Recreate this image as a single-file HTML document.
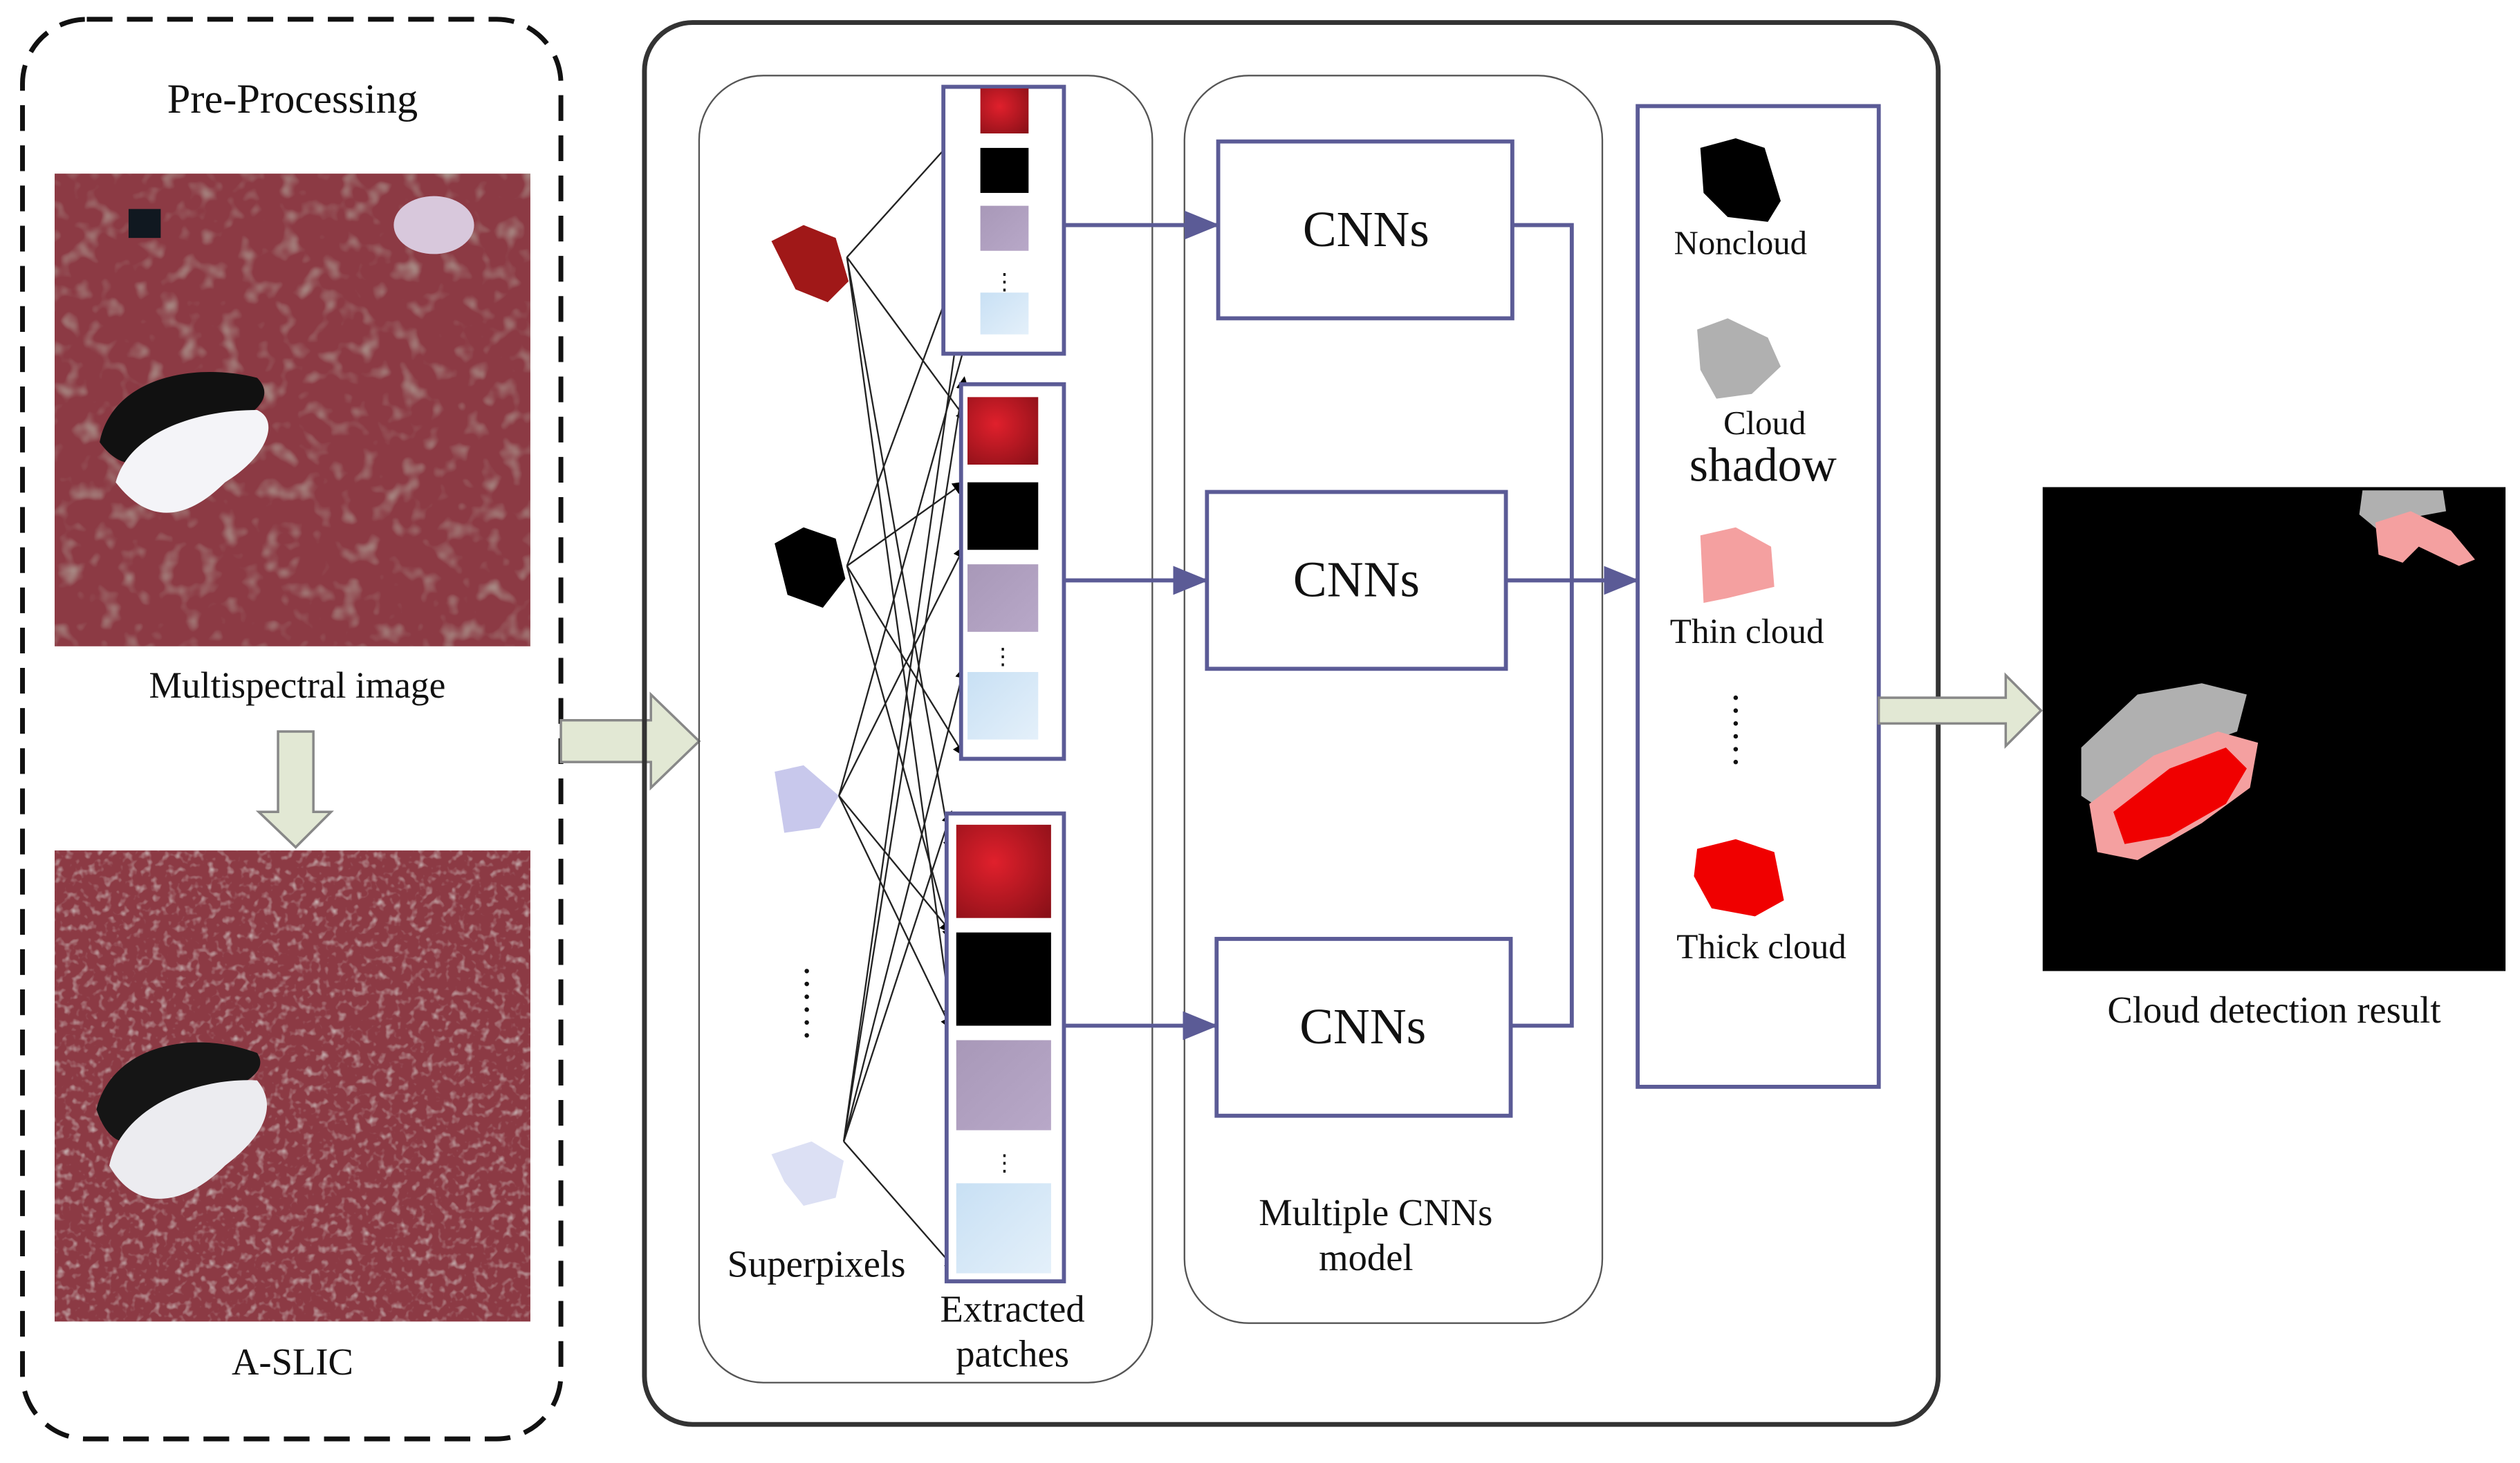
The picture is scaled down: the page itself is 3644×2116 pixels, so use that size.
<!DOCTYPE html>
<html><head><meta charset="utf-8"><style>
html,body{margin:0;padding:0;background:#fff;}
svg{display:block;}
text{font-family:"Liberation Serif",serif;fill:#111;}
</style></head><body>
<svg width="3644" height="2116" viewBox="0 0 1568 910" preserveAspectRatio="none" xmlns="http://www.w3.org/2000/svg">
<defs>
<filter id="tex" x="0" y="0" width="100%" height="100%">
<feTurbulence type="fractalNoise" baseFrequency="0.08" numOctaves="2" seed="3"/>
<feColorMatrix type="matrix" values="0 0 0 0 0.5  0 0 0 0 0.55  0 0 0 0 0.45  0 0 0 1.6 -0.85"/>
</filter>
<filter id="tex2" x="0" y="0" width="100%" height="100%">
<feTurbulence type="fractalNoise" baseFrequency="0.2" numOctaves="2" seed="7"/>
<feColorMatrix type="matrix" values="0 0 0 0 0.7  0 0 0 0 0.7  0 0 0 0 0.68  0 0 0 1.8 -0.95"/>
</filter>
<radialGradient id="red" cx="0.4" cy="0.4" r="0.8"><stop offset="0" stop-color="#e0202c"/><stop offset="1" stop-color="#8a1018"/></radialGradient>
<linearGradient id="lav" x1="0" y1="0" x2="1" y2="1"><stop offset="0" stop-color="#a898b8"/><stop offset="1" stop-color="#b8a8c8"/></linearGradient>
<linearGradient id="sky" x1="0" y1="0" x2="1" y2="1"><stop offset="0" stop-color="#c8e0f4"/><stop offset="1" stop-color="#e4f0fa"/></linearGradient>
<marker id="ah" markerWidth="8" markerHeight="8" refX="7" refY="4" orient="auto" markerUnits="userSpaceOnUse"><path d="M0,0 L8,4 L0,8z" fill="#000"/></marker>
<marker id="ap" markerWidth="22" markerHeight="18" refX="21" refY="9" orient="auto" markerUnits="userSpaceOnUse"><path d="M0,0 L22,9 L0,18z" fill="#5b5b96"/></marker>
</defs>

<rect x="14" y="12" width="335" height="883" rx="40" fill="none" stroke="#111" stroke-width="3" stroke-dasharray="16,9"/>
<text x="182" y="70" font-size="26" text-anchor="middle">Pre-Processing</text>
<rect x="34" y="108" width="296" height="294" fill="#8c3a44"/>
<rect x="34" y="108" width="296" height="294" filter="url(#tex)"/>
<path d="M62,275 C70,235 120,225 160,235 C175,250 150,265 120,270 C100,285 80,300 62,275z" fill="#111"/>
<path d="M72,300 C80,270 120,255 160,255 C175,262 165,285 140,300 C120,320 95,330 72,300z" fill="#f4f4f8"/>
<ellipse cx="270" cy="140" rx="25" ry="18" fill="#d8c8dc"/>
<rect x="80" y="130" width="20" height="18" fill="#101820"/>
<text x="185" y="434" font-size="23" text-anchor="middle">Multispectral image</text>
<path d="M173,455 H195 V505 H206 L184,527 L161,505 H173z" fill="#e2e8d4" stroke="#888" stroke-width="1.5"/>
<rect x="34" y="529" width="296" height="293" fill="#8c3a44"/>
<rect x="34" y="529" width="296" height="293" filter="url(#tex2)"/>
<path d="M60,690 C70,650 120,640 160,655 C170,670 140,680 110,690 C90,715 70,720 60,690z" fill="#151515"/>
<path d="M68,725 C75,690 120,670 160,672 C175,690 160,710 140,725 C115,750 85,755 68,725z" fill="#ececf0"/>
<text x="182" y="855" font-size="23.5" text-anchor="middle">A-SLIC</text>

<path d="M349,448 H405 V432 L435,461 L405,490 V474 H349z" fill="#e2e8d4" stroke="#888" stroke-width="1.5"/>

<rect x="401" y="14" width="805" height="872" rx="30" fill="none" stroke="#333" stroke-width="3"/>
<rect x="435" y="47" width="282" height="813" rx="40" fill="none" stroke="#555" stroke-width="1"/>
<rect x="737" y="47" width="260" height="776" rx="40" fill="none" stroke="#555" stroke-width="1"/>

<path d="M480,150 L500,140 L520,148 L528,175 L515,188 L495,180z" fill="#a01818"/>
<path d="M482,338 L500,328 L520,335 L526,360 L512,378 L490,370z" fill="#000"/>
<path d="M482,480 L500,476 L522,495 L510,515 L488,518z" fill="#c8c8ec"/>
<path d="M480,718 L505,710 L525,722 L520,745 L500,750 L488,735z" fill="#dce0f4"/>
<g fill="#111"><circle cx="502" cy="604" r="1.4"/><circle cx="502" cy="612" r="1.4"/><circle cx="502" cy="620" r="1.4"/><circle cx="502" cy="628" r="1.4"/><circle cx="502" cy="636" r="1.4"/><circle cx="502" cy="644" r="1.4"/></g>
<text x="508" y="794" font-size="23.5" text-anchor="middle">Superpixels</text>
<text x="630" y="822" font-size="23.5" text-anchor="middle">Extracted</text>
<text x="630" y="850" font-size="23.5" text-anchor="middle">patches</text>

<g stroke="#222" stroke-width="1" fill="none" marker-end="url(#ah)">
<line x1="527" y1="160" x2="610" y2="68"/>
<line x1="527" y1="160" x2="602" y2="262"/>
<line x1="527" y1="160" x2="592" y2="530"/>
<line x1="527" y1="160" x2="592" y2="635"/>
<line x1="527" y1="352" x2="610" y2="128"/>
<line x1="527" y1="352" x2="600" y2="300"/>
<line x1="527" y1="352" x2="600" y2="470"/>
<line x1="527" y1="352" x2="592" y2="585"/>
<line x1="522" y1="495" x2="610" y2="180"/>
<line x1="522" y1="495" x2="600" y2="340"/>
<line x1="522" y1="495" x2="592" y2="640"/>
<line x1="522" y1="495" x2="592" y2="580"/>
<line x1="525" y1="710" x2="610" y2="105"/>
<line x1="525" y1="710" x2="600" y2="235"/>
<line x1="525" y1="710" x2="600" y2="415"/>
<line x1="525" y1="710" x2="595" y2="790"/>
<line x1="525" y1="710" x2="592" y2="505"/>
</g>

<g stroke="#5b5b96" stroke-width="2.5" fill="#fff">
<rect x="587" y="54" width="75" height="166"/>
<rect x="598" y="239" width="64" height="233"/>
<rect x="589" y="506" width="73" height="291"/>
</g>
<rect x="610" y="55" width="30" height="28" fill="url(#red)"/>
<rect x="610" y="92" width="30" height="28" fill="#000"/>
<rect x="610" y="128" width="30" height="28" fill="url(#lav)"/>
<text x="625" y="180" font-size="14" text-anchor="middle">⋮</text>
<rect x="610" y="182" width="30" height="26" fill="url(#sky)"/>
<rect x="602" y="247" width="44" height="42" fill="url(#red)"/>
<rect x="602" y="300" width="44" height="42" fill="#000"/>
<rect x="602" y="351" width="44" height="42" fill="url(#lav)"/>
<text x="624" y="413" font-size="14" text-anchor="middle">⋮</text>
<rect x="602" y="418" width="44" height="42" fill="url(#sky)"/>
<rect x="595" y="513" width="59" height="58" fill="url(#red)"/>
<rect x="595" y="580" width="59" height="58" fill="#000"/>
<rect x="595" y="647" width="59" height="56" fill="url(#lav)"/>
<text x="625" y="728" font-size="14" text-anchor="middle">⋮</text>
<rect x="595" y="736" width="59" height="56" fill="url(#sky)"/>

<g stroke="#5b5b96" stroke-width="2.5" fill="none">
<line x1="662" y1="140" x2="758" y2="140" marker-end="url(#ap)"/>
<line x1="662" y1="361" x2="751" y2="361" marker-end="url(#ap)"/>
<line x1="662" y1="638" x2="757" y2="638" marker-end="url(#ap)"/>
<rect x="758" y="88" width="183" height="110"/>
<rect x="751" y="306" width="186" height="110"/>
<rect x="757" y="584" width="183" height="110"/>
<polyline points="941,140 978,140 978,638 940,638"/>
<line x1="937" y1="361" x2="1019" y2="361" marker-end="url(#ap)"/>
<rect x="1019" y="66" width="150" height="610"/>
</g>
<text x="850" y="153" font-size="31.5" text-anchor="middle">CNNs</text>
<text x="844" y="371" font-size="31.5" text-anchor="middle">CNNs</text>
<text x="848" y="649" font-size="31.5" text-anchor="middle">CNNs</text>
<text x="856" y="762" font-size="23.5" text-anchor="middle">Multiple CNNs</text>
<text x="850" y="790" font-size="23.5" text-anchor="middle">model</text>

<path d="M1058,92 L1080,86 L1098,92 L1108,125 L1100,138 L1075,135 L1060,120z" fill="#000"/>
<text x="1083" y="158" font-size="21" text-anchor="middle">Noncloud</text>
<path d="M1056,205 L1075,198 L1100,210 L1108,228 L1090,245 L1068,248 L1058,230z" fill="#b0b0b0"/>
<text x="1098" y="270" font-size="21" text-anchor="middle">Cloud</text>
<text x="1097" y="299" font-size="30" text-anchor="middle">shadow</text>
<path d="M1058,333 L1080,328 L1102,340 L1104,365 L1075,372 L1060,375z" fill="#f4a0a0"/>
<text x="1087" y="400" font-size="22" text-anchor="middle">Thin cloud</text>
<g fill="#111"><circle cx="1080" cy="434" r="1.4"/><circle cx="1080" cy="442" r="1.4"/><circle cx="1080" cy="450" r="1.4"/><circle cx="1080" cy="458" r="1.4"/><circle cx="1080" cy="466" r="1.4"/><circle cx="1080" cy="474" r="1.4"/></g>
<path d="M1056,528 L1080,522 L1104,530 L1110,560 L1092,570 L1065,565 L1054,545z" fill="#f00000"/>
<text x="1096" y="596" font-size="22" text-anchor="middle">Thick cloud</text>

<path d="M1169,434 H1248 V420 L1270,442 L1248,464 V450 H1169z" fill="#e2e8d4" stroke="#888" stroke-width="1.5"/>

<rect x="1271" y="303" width="288" height="301" fill="#000"/>
<path d="M1470,305 L1520,305 L1522,318 L1500,322 L1480,330 L1468,320z" fill="#b0b0b0"/>
<path d="M1478,325 L1500,318 L1525,330 L1540,348 L1530,352 L1505,340 L1495,350 L1480,345z" fill="#f4a0a0"/>
<path d="M1295,465 L1330,432 L1370,425 L1398,432 L1392,455 L1350,470 L1310,505 L1295,495z" fill="#b0b0b0"/>
<path d="M1300,500 L1340,470 L1380,455 L1405,462 L1400,490 L1370,512 L1330,535 L1305,530z" fill="#f4a0a0"/>
<path d="M1315,505 L1350,478 L1385,465 L1398,478 L1385,500 L1350,520 L1322,525z" fill="#f00000"/>
<text x="1415" y="636" font-size="23.5" text-anchor="middle">Cloud detection result</text>
</svg>
</body></html>
